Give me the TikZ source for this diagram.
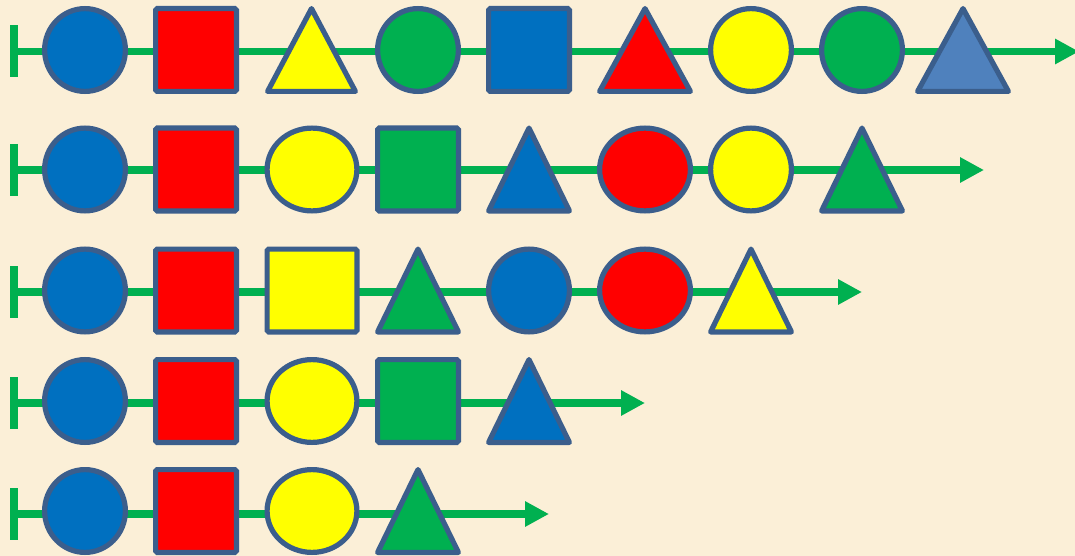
\documentclass[tikz,border=0pt]{standalone}
\usetikzlibrary{arrows.meta,shapes.geometric}
\definecolor{bg}{HTML}{FBEFD7}
\definecolor{edge}{HTML}{3B5E8C}
\definecolor{cblue}{HTML}{0070C0}
\definecolor{cred}{HTML}{FF0000}
\definecolor{cyel}{HTML}{FFFF00}
\definecolor{cgreen}{HTML}{00B050}
\definecolor{csteel}{HTML}{4F81BD}
\definecolor{lgreen}{HTML}{00B050}
\tikzset{
 shp/.style={draw=edge, line width=5.2pt, inner sep=0pt, outer sep=0pt},
 circ/.style={shp, ellipse, minimum height=82.8pt},
 sq/.style={shp, rectangle, rounded corners=1.5pt, minimum height=82.8pt},
 tri/.style={draw=edge, line width=5.2pt, line join=round},
 nw/.style={minimum width=80.8pt},
 ww/.style={minimum width=89.8pt},
 axis/.style={draw=lgreen, line width=7.5pt, -{Triangle[length=24pt,width=24pt]}},
 barline/.style={draw=lgreen, line width=8pt},
}
\newcommand\mytri[5]{%
 \filldraw[tri, fill=#5] ({#1-#3/2+2.6},{#2+#4/2-2.6}) -- (#1,{#2-#4/2+2.6}) -- ({#1+#3/2-2.6},{#2+#4/2-2.6}) -- cycle;}
\newcommand\myrow[3]{% name, line y, tip x
 \coordinate (#1s) at (14,#2);
 \coordinate (#1e) at (#3,#2);
 \coordinate (#1t) at (14,{#2-26});
 \coordinate (#1b) at (14,{#2+26});
 \draw[barline] (#1t) -- (#1b);
 \draw[axis] (#1s) -- (#1e);}
\begin{document}
\begin{tikzpicture}[x=1pt,y=-1pt]
\useasboundingbox (0,0) rectangle (1075,556);
\fill[bg] (0,0) rectangle (1075,556);
% Row 1
\myrow{r1}{51.5}{1079}
\node[circ,nw,fill=cblue] (a1) at (85,50) {};
\node[sq,nw,fill=cred] (a2) at (196,50) {};
\mytri{311.5}{50}{93}{88}{cyel}
\node[circ,nw,fill=cgreen] (a4) at (418,50) {};
\node[sq,nw,fill=cblue] (a5) at (529,50) {};
\mytri{645}{50}{96}{88}{cred}
\node[circ,nw,fill=cyel] (a7) at (751,50) {};
\node[circ,nw,fill=cgreen] (a8) at (862,50) {};
\mytri{963}{50}{96}{88}{csteel}
% Row 2
\myrow{r2}{170}{984}
\node[circ,nw,fill=cblue] (b1) at (85,169.5) {};
\node[sq,nw,fill=cred] (b2) at (196,169.5) {};
\node[circ,ww,fill=cyel] (b3) at (312,169.5) {};
\node[sq,nw,fill=cgreen] (b4) at (418,169.5) {};
\mytri{529}{169.5}{86}{88}{cblue}
\node[circ,ww,minimum width=90.8pt,fill=cred] (b6) at (645,169.5) {};
\node[circ,nw,fill=cyel] (b7) at (751,169.5) {};
\mytri{862}{169.5}{86}{88}{cgreen}
% Row 3
\myrow{r3}{292}{862}
\node[circ,nw,fill=cblue] (c1) at (85,290.5) {};
\node[sq,nw,fill=cred] (c2) at (196,290.5) {};
\node[sq,ww,fill=cyel] (c3) at (312,290.5) {};
\mytri{418}{290.5}{86}{88}{cgreen}
\node[circ,nw,fill=cblue] (c5) at (529,290.5) {};
\node[circ,ww,minimum width=90.8pt,fill=cred] (c6) at (645,290.5) {};
\mytri{751}{290.5}{86}{88}{cyel}
% Row 4
\myrow{r4}{403}{645}
\node[circ,nw,fill=cblue] (d1) at (85,401) {};
\node[sq,nw,fill=cred] (d2) at (196,401) {};
\node[circ,ww,fill=cyel] (d3) at (312,401) {};
\node[sq,nw,fill=cgreen] (d4) at (418,401) {};
\mytri{529}{401}{86}{88}{cblue}
% Row 5
\myrow{r5}{514}{549}
\node[circ,nw,fill=cblue] (e1) at (85,511) {};
\node[sq,nw,fill=cred] (e2) at (196,511) {};
\node[circ,ww,fill=cyel] (e3) at (312,511) {};
\mytri{418}{511}{86}{88}{cgreen}
\end{tikzpicture}
\end{document}
